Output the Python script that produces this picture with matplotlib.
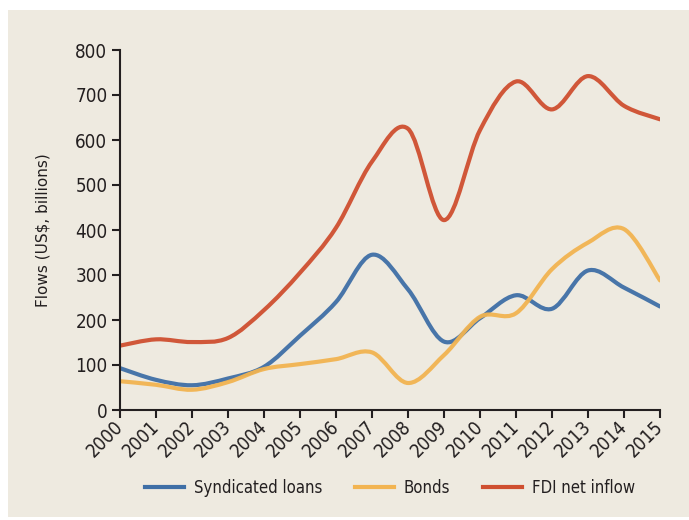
import numpy as np
import matplotlib.pyplot as plt
from matplotlib import font_manager
from matplotlib.path import Path
from matplotlib.patches import PathPatch, Rectangle
from matplotlib.lines import Line2D

years = list(range(2000, 2016))
syndicated_loans = [93, 67, 55, 70, 96, 165, 240, 345, 268, 152, 204, 255, 225, 310, 272, 230]
bonds = [64, 56, 45, 62, 91, 102, 113, 128, 60, 122, 207, 215, 313, 372, 402, 288]
fdi_net_inflow = [143, 157, 151, 160, 222, 305, 405, 552, 625, 422, 622, 730, 668, 742, 676, 646]
series_names = ['Syndicated loans', 'Bonds', 'FDI net inflow']
colors = ['#3F6FA6', '#F2B451', '#CF4F30']

# pick a narrow font if one is installed
narrow = [f.name for f in font_manager.fontManager.ttflist
          if f.stretch in ('condensed', 'semi-condensed', 'extra-condensed')
          or 'Narrow' in f.name or 'Condensed' in f.name]
cond_font = narrow[0] if narrow else 'DejaVu Sans'
FONT = [cond_font, 'DejaVu Sans']
STRETCH = 'condensed'


def smooth_path(x, y):
    # Excel-like smoothed line: cubic Bezier through each point
    p = np.column_stack([x, y]).astype(float)
    ext = np.vstack([p[0], p, p[-1]])
    verts = [p[0]]
    codes = [Path.MOVETO]
    for i in range(len(p) - 1):
        a, b, c, d = ext[i], ext[i + 1], ext[i + 2], ext[i + 3]
        verts += [b + (c - a) / 6, c - (d - b) / 6, c]
        codes += [Path.CURVE4] * 3
    return Path(verts, codes)


fig = plt.figure(figsize=(6.89, 5.2), dpi=100, facecolor='white')
fig.patches.append(Rectangle((8 / 689, 3 / 520), 1 - 8 / 689, 507 / 520,
                             transform=fig.transFigure, facecolor='#EEEAE0',
                             edgecolor='none', zorder=-10))

ax = fig.add_axes([120 / 689, 1 - 410 / 520, 540 / 689, 360 / 520])
ax.set_facecolor('none')
ax.set_zorder(2)

handles = []
for vals, name, col in zip([syndicated_loans, bonds, fdi_net_inflow], series_names, colors):
    ax.add_patch(PathPatch(smooth_path(years, vals), facecolor='none', edgecolor=col,
                           lw=3.0, capstyle='round', joinstyle='round', alpha=0.95))
    handles.append(Line2D([], [], color=col, lw=3.0, label=name))

ax.set_xlim(2000, 2015)
ax.set_ylim(0, 800)
ax.set_xticks(years)
ax.set_yticks(range(0, 801, 100))
ax.set_xticklabels([str(y) for y in years], rotation=45, ha='right', va='center',
                   rotation_mode='anchor', family=FONT, stretch=STRETCH, fontsize=13.5,
                   color='#231F20')
ax.set_yticklabels([str(v) for v in range(0, 801, 100)], family=FONT, stretch=STRETCH,
                   fontsize=13.5, color='#231F20')
ax.tick_params(axis='x', length=6, width=1.5, pad=4, colors='#231F20')
ax.tick_params(axis='y', length=6, width=1.5, pad=3, colors='#231F20')
for s in ['top', 'right']:
    ax.spines[s].set_visible(False)
for s in ['left', 'bottom']:
    ax.spines[s].set_linewidth(1.5)
    ax.spines[s].set_color('#231F20')

ax.set_ylabel('Flows (US$, billions)', fontsize=11, color='#231F20', labelpad=18)

fig.legend(handles=handles, loc='center', bbox_to_anchor=(390 / 689, 1 - 488 / 520),
           ncol=3, frameon=False, handlelength=2.3, columnspacing=2.0, handletextpad=0.6,
           prop={'family': FONT, 'stretch': STRETCH, 'size': 12}, labelcolor='#231F20')

fig.savefig('out.png', dpi=100, facecolor='white')
